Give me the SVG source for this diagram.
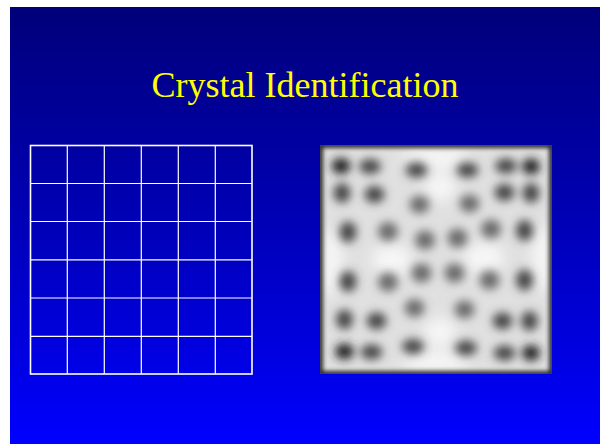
<svg xmlns="http://www.w3.org/2000/svg" width="600" height="444" viewBox="0 0 600 444">
  <defs>
    <linearGradient id="bg" x1="0" y1="0" x2="0" y2="1">
      <stop offset="0" stop-color="#00007a"/>
      <stop offset="0.5" stop-color="#0000b8"/>
      <stop offset="1" stop-color="#0000ff"/>
    </linearGradient>
    <filter id="blur" x="-30%" y="-30%" width="160%" height="160%">
      <feGaussianBlur stdDeviation="5"/>
    </filter>
    <filter id="blur2" x="-20%" y="-20%" width="140%" height="140%">
      <feGaussianBlur stdDeviation="7"/>
    </filter>
    <filter id="blurEdge" x="-5%" y="-5%" width="110%" height="110%">
      <feGaussianBlur stdDeviation="2"/>
    </filter>
    <clipPath id="imgClip">
      <rect x="320" y="145" width="232" height="229"/>
    </clipPath>
    <style>
      .title { font-family: "Liberation Serif", "Times New Roman", serif; font-size: 36px; fill: #ffff00; }
      .grid line { stroke: #ffffff; stroke-width: 1.2; }
      .spot { fill: #454545; }
      .dark { fill: #222222; }
      .mid { fill: #6a6a6a; }
    </style>
  </defs>

  <rect x="0" y="0" width="600" height="444" fill="#ffffff"/>
  <rect x="10" y="7" width="590" height="437" fill="url(#bg)"/>

  <text class="title" x="305" y="97" text-anchor="middle">Crystal Identification</text>

  <g id="crystal-grid" class="grid">
    <rect x="30.5" y="145.5" width="221.5" height="228.5" fill="none" stroke="#ffffff" stroke-width="1.6"/>
    <line x1="67.3" y1="145.5" x2="67.3" y2="374"/>
    <line x1="104.3" y1="145.5" x2="104.3" y2="374"/>
    <line x1="141.3" y1="145.5" x2="141.3" y2="374"/>
    <line x1="178.3" y1="145.5" x2="178.3" y2="374"/>
    <line x1="215.3" y1="145.5" x2="215.3" y2="374"/>
    <line x1="30.5" y1="183.5" x2="252" y2="183.5"/>
    <line x1="30.5" y1="221.5" x2="252" y2="221.5"/>
    <line x1="30.5" y1="259.8" x2="252" y2="259.8"/>
    <line x1="30.5" y1="298" x2="252" y2="298"/>
    <line x1="30.5" y1="336.3" x2="252" y2="336.3"/>
  </g>

  <g id="flood-map" clip-path="url(#imgClip)">
    <rect x="320" y="145" width="232" height="229" fill="#e0e0e0"/>
    <g filter="url(#blur2)" fill="#f6f6f6">
      <ellipse cx="436" cy="158" rx="34" ry="10"/>
      <ellipse cx="436" cy="362" rx="34" ry="10"/>
      <ellipse cx="332" cy="262" rx="10" ry="34"/>
      <ellipse cx="542" cy="258" rx="10" ry="34"/>
      <ellipse cx="392" cy="260" rx="20" ry="16"/>
      <ellipse cx="484" cy="258" rx="20" ry="16"/>
      <ellipse cx="440" cy="187" rx="16" ry="14"/>
      <ellipse cx="440" cy="332" rx="16" ry="14"/>
    </g>
    <g filter="url(#blurEdge)">
      <rect x="320" y="145" width="232" height="229" fill="none" stroke="#2a2a2a" stroke-width="6"/>
    </g>
    <g filter="url(#blur)">
      <!-- row 1 -->
      <ellipse class="dark" cx="341" cy="166" rx="9.5" ry="8"/>
      <ellipse class="spot" cx="370" cy="166.5" rx="11" ry="7.5"/>
      <ellipse class="spot" cx="416.5" cy="170" rx="11" ry="7.5"/>
      <ellipse class="spot" cx="467.5" cy="170" rx="11" ry="7.5"/>
      <ellipse class="spot" cx="506" cy="166" rx="11" ry="7.5"/>
      <ellipse class="dark" cx="531" cy="166.5" rx="9" ry="8"/>
      <!-- row 2 -->
      <ellipse class="spot" cx="342" cy="193" rx="8.5" ry="10"/>
      <ellipse class="spot" cx="374.5" cy="194.5" rx="10" ry="8.5"/>
      <ellipse class="mid" cx="419.5" cy="204.5" rx="10" ry="9"/>
      <ellipse class="mid" cx="469.5" cy="203.5" rx="10" ry="9"/>
      <ellipse class="spot" cx="504.5" cy="192.5" rx="10" ry="8.5"/>
      <ellipse class="spot" cx="531" cy="193" rx="8.5" ry="10"/>
      <!-- row 3 -->
      <ellipse class="spot" cx="348" cy="232" rx="8.5" ry="10.5"/>
      <ellipse class="mid" cx="388" cy="231.5" rx="10" ry="9.5"/>
      <ellipse class="mid" cx="425" cy="240" rx="10" ry="9.5"/>
      <ellipse class="mid" cx="457.5" cy="238" rx="10" ry="9.5"/>
      <ellipse class="mid" cx="491" cy="229" rx="10" ry="9.5"/>
      <ellipse class="spot" cx="524.5" cy="230.5" rx="8.5" ry="10.5"/>
      <!-- row 4 -->
      <ellipse class="spot" cx="348" cy="281.5" rx="8.5" ry="10.5"/>
      <ellipse class="mid" cx="388" cy="282" rx="10" ry="9.5"/>
      <ellipse class="mid" cx="421.5" cy="273" rx="10" ry="9.5"/>
      <ellipse class="mid" cx="454.5" cy="273" rx="10" ry="9.5"/>
      <ellipse class="mid" cx="489.5" cy="280" rx="10" ry="9.5"/>
      <ellipse class="spot" cx="524.5" cy="280" rx="8.5" ry="10.5"/>
      <!-- row 5 -->
      <ellipse class="spot" cx="344.5" cy="319.5" rx="8.5" ry="10"/>
      <ellipse class="spot" cx="376.5" cy="321" rx="10" ry="8.5"/>
      <ellipse class="mid" cx="414.5" cy="308" rx="10" ry="9"/>
      <ellipse class="mid" cx="464.5" cy="309.5" rx="10" ry="9"/>
      <ellipse class="spot" cx="502.5" cy="321" rx="10" ry="8.5"/>
      <ellipse class="spot" cx="529.5" cy="321" rx="8.5" ry="10"/>
      <!-- row 6 -->
      <ellipse class="dark" cx="344.5" cy="351.5" rx="9.5" ry="8"/>
      <ellipse class="spot" cx="371.5" cy="352" rx="11" ry="7.5"/>
      <ellipse class="spot" cx="413" cy="346.5" rx="11" ry="7.5"/>
      <ellipse class="spot" cx="466" cy="348" rx="11" ry="7.5"/>
      <ellipse class="spot" cx="504.5" cy="353" rx="11" ry="7.5"/>
      <ellipse class="dark" cx="531" cy="353" rx="9" ry="8"/>
    </g>
  </g>
</svg>
